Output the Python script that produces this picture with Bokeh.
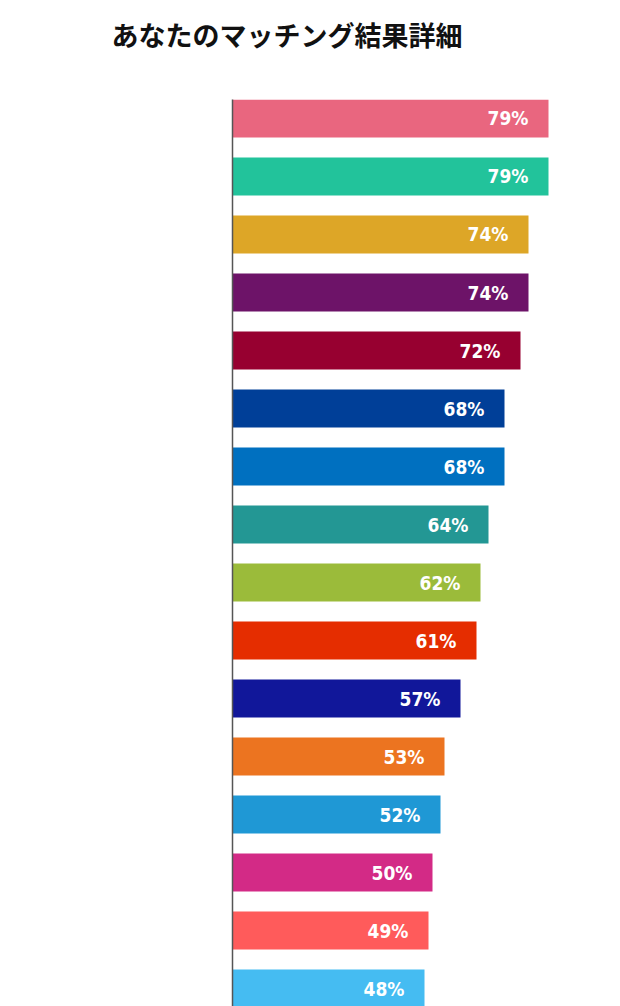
from bokeh.plotting import figure
from bokeh.models import ColumnDataSource, Range1d, Title
from bokeh.embed import file_html
from bokeh.resources import INLINE
from bokeh.core.properties import value

title_text = "あなたのマッチング結果詳細"
values = [79, 79, 74, 74, 72, 68, 68, 64, 62, 61, 57, 53, 52, 50, 49, 48]
colors = ["#E9667F", "#22C39B", "#DDA627", "#6D1368", "#970030", "#003F98",
          "#0070C0", "#239794", "#9BBB3A", "#E52D00", "#11179A", "#EC7420",
          "#1F98D5", "#D32A86", "#FF5B5B", "#45BCF2"]
labels = [f"{v}%" for v in values]
idx = list(range(len(values)))

src = ColumnDataSource(dict(y=idx, v=values, c=colors, lab=labels))

p = figure(width=620, height=1006, output_backend="svg", toolbar_location=None,
           x_axis_location=None, y_axis_location="left",
           x_range=Range1d(0, 97), y_range=Range1d(15.31, -0.3275),
           min_border_left=232, min_border_right=0, min_border_top=99,
           min_border_bottom=0)
p.outline_line_color = None
p.grid.visible = False
p.background_fill_color = "white"
p.border_fill_color = "white"

p.hbar(y="y", left=0, right="v", height=0.655, fill_color="c", line_color=None, source=src)
p.text(x="v", y="y", text="lab", source=src, x_offset=-20, text_align="right",
       text_baseline="middle", text_color="white", text_font_size="19px",
       text_font_style="bold", text_font=value("DejaVu Sans Condensed, Roboto, sans-serif"))

ax = p.yaxis[0]
ax.major_tick_line_color = None
ax.minor_tick_line_color = None
ax.major_label_text_font_size = "0px"
ax.axis_line_color = "#555555"
ax.axis_line_width = 1.5
ax.ticker = []

spacer = Title(text=" ", align="left", text_font_size="27px",
               text_font="Noto Sans CJK JP", standoff=5)
p.add_layout(spacer, "above")
t = Title(text=title_text, align="left", offset=-121, text_font_size="27px",
          text_font="Noto Sans CJK JP", text_font_style="bold", text_color="#111111",
          standoff=0)
p.add_layout(t, "above")

open("out.html", "w").write(file_html(p, INLINE))
